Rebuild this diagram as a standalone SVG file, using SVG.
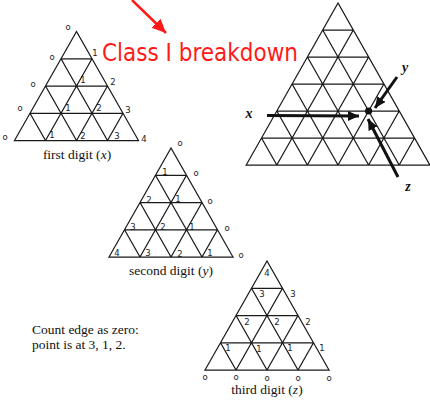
<svg xmlns="http://www.w3.org/2000/svg" xmlns:xlink="http://www.w3.org/1999/xlink" width="430" height="400" viewBox="0 0 430 400">
<style>
.grid{fill:none;stroke:#1a1a1a;stroke-width:1.25;stroke-linejoin:miter}
.lab{font-family:"DejaVu Sans",sans-serif;font-size:8.5px;fill:#1a1a1a;text-anchor:middle}
.cap{font-family:"Liberation Serif",serif;font-size:13.5px;fill:#111;text-anchor:middle}
.note{font-family:"Liberation Serif",serif;font-size:13.5px;fill:#111}
.axis{font-family:"Liberation Serif",serif;font-style:italic;font-weight:bold;font-size:14px;fill:#111;text-anchor:middle}
.arr{stroke:#111;stroke-width:3;fill:none}
.title{font-family:"DejaVu Sans",sans-serif;font-size:25px;fill:#ff1a1a}
</style>
<defs>
<marker id="ah" markerUnits="userSpaceOnUse" markerWidth="12" markerHeight="10" refX="11" refY="5" orient="auto">
<path d="M0,0 L11,5 L0,10 Z" fill="#111"/>
</marker>
<marker id="ahr" markerUnits="userSpaceOnUse" markerWidth="15" markerHeight="13" refX="14" refY="6.5" orient="auto">
<path d="M0,0 L14,6.5 L0,13 Z" fill="#ff1a1a"/>
</marker>
<path id="tri4" class="grid" d="M0,0 L-62,109 L62,109 Z M-15.5,27.25 H15.5 M-31,54.5 H31 M-46.5,81.75 H46.5 M15.5,27.25 L-31,109 M31,54.5 L0,109 M46.5,81.75 L31,109 M-15.5,27.25 L31,109 M-31,54.5 L0,109 M-46.5,81.75 L-31,109"/>
</defs>

<g id="title-arrow">
<line x1="132" y1="0" x2="166" y2="33" stroke="#ff1a1a" stroke-width="2.5" marker-end="url(#ahr)"/>
</g>
<g id="title">
<text class="title" x="102" y="61" textLength="196" lengthAdjust="spacingAndGlyphs">Class I breakdown</text>
</g>

<g id="first-digit">
<use xlink:href="#tri4" href="#tri4" x="76.5" y="31.5"/>
<g class="lab">
<text x="68" y="30">o</text>
<text x="52" y="60">o</text>
<text x="33" y="87">o</text>
<text x="20" y="111">o</text>
<text x="5" y="140">o</text>
<text x="95" y="56">1</text>
<text x="113" y="85">2</text>
<text x="128" y="113">3</text>
<text x="144" y="142">4</text>
<text x="83" y="83">1</text>
<text x="68" y="111">1</text>
<text x="99" y="111">2</text>
<text x="52" y="138">1</text>
<text x="83" y="139">2</text>
<text x="117" y="139">3</text>
</g>
<text class="cap" x="77" y="159">first digit (<tspan font-style="italic">x</tspan>)</text>
</g>

<g id="breakdown">
<path class="grid" transform="translate(338,3)" d="M0,0 L-91.8,162 L91.8,162 Z M-15.3,27 H15.3 M-30.6,54 H30.6 M-45.9,81 H45.9 M-61.2,108 H61.2 M-76.5,135 H76.5 M15.3,27 L-61.2,162 M30.6,54 L-30.6,162 M45.9,81 L0,162 M61.2,108 L30.6,162 M76.5,135 L61.2,162 M-15.3,27 L61.2,162 M-30.6,54 L30.6,162 M-45.9,81 L0,162 M-61.2,108 L-30.6,162 M-76.5,135 L-61.2,162"/>
<circle cx="368.6" cy="111" r="3.6" fill="#111"/>
<text class="axis" x="249" y="118">x</text>
<text class="axis" x="405" y="72">y</text>
<text class="axis" x="408" y="191">z</text>
</g>

<g id="connectors">
<line class="arr" x1="267" y1="115.5" x2="359" y2="116" marker-end="url(#ah)"/>
<line class="arr" x1="397" y1="77" x2="375" y2="108" marker-end="url(#ah)"/>
<line class="arr" x1="398" y1="177" x2="368" y2="119" marker-end="url(#ah)"/>
</g>

<g id="second-digit">
<use xlink:href="#tri4" href="#tri4" x="171" y="148"/>
<g class="lab">
<text x="180" y="146">o</text>
<text x="196" y="176">o</text>
<text x="210" y="204">o</text>
<text x="227" y="231">o</text>
<text x="241" y="258">o</text>
<text x="165" y="175">1</text>
<text x="149" y="203">2</text>
<text x="178" y="202">1</text>
<text x="133" y="230">3</text>
<text x="163" y="230">2</text>
<text x="192" y="230">1</text>
<text x="117" y="256">4</text>
<text x="148" y="256">3</text>
<text x="180" y="257">2</text>
<text x="210" y="256">1</text>
</g>
<text class="cap" x="171" y="275">second digit (<tspan font-style="italic">y</tspan>)</text>
</g>

<g id="third-digit">
<use xlink:href="#tri4" href="#tri4" x="267" y="261"/>
<g class="lab">
<text x="267" y="276">4</text>
<text x="262" y="297">3</text>
<text x="293" y="297">3</text>
<text x="247" y="325">2</text>
<text x="277" y="325">2</text>
<text x="308" y="325">2</text>
<text x="228" y="351">1</text>
<text x="259" y="352">1</text>
<text x="290" y="351">1</text>
<text x="322" y="351">1</text>
<text x="205" y="380">o</text>
<text x="236" y="380">o</text>
<text x="267" y="381">o</text>
<text x="298" y="381">o</text>
<text x="329" y="381">o</text>
</g>
<text class="cap" x="267" y="394">third digit (<tspan font-style="italic">z</tspan>)</text>
</g>

<g id="note">
<text class="note" x="32" y="334">Count edge as zero:</text>
<text class="note" x="32" y="349">point is at 3, 1, 2.</text>
</g>
</svg>
